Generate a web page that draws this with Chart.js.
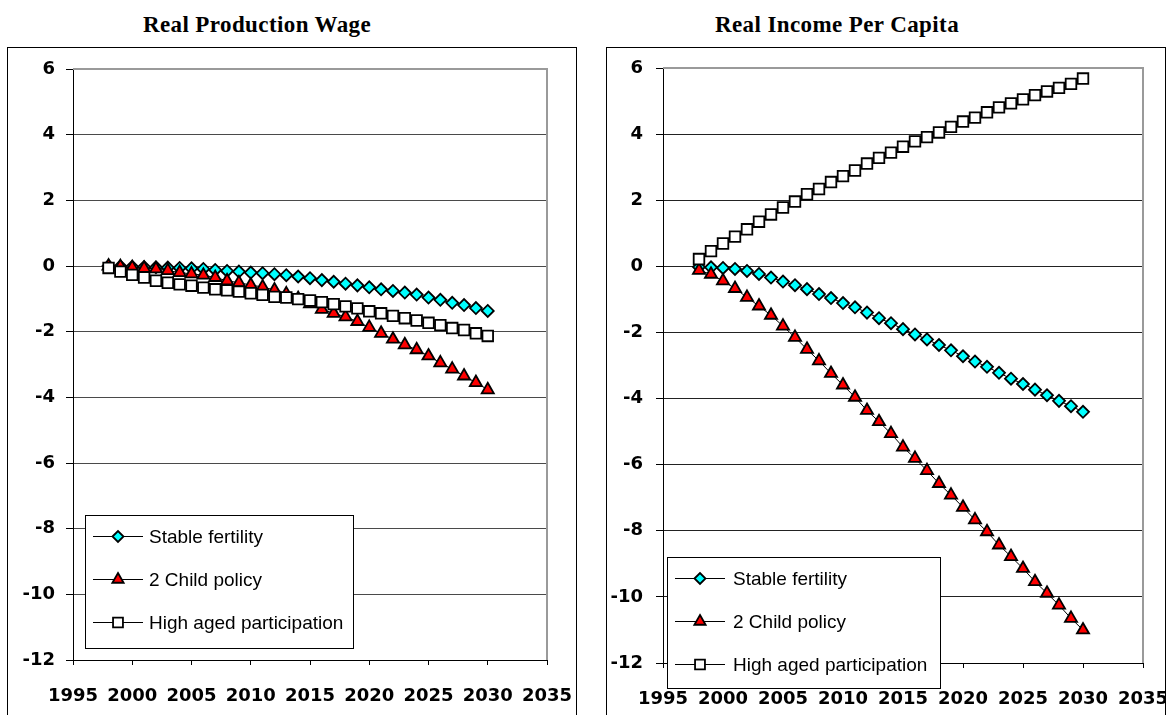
<!DOCTYPE html>
<html>
<head>
<meta charset="utf-8">
<script src="https://cdn.jsdelivr.net/npm/chart.js@4.4.1/dist/chart.umd.min.js"></script>
<style>
  html, body { margin: 0; padding: 0; background: #fff; overflow: hidden; }
  body { width: 1168px; height: 715px; position: relative; }
  .title {
    position: absolute; top: 12px; line-height: 27px; white-space: nowrap;
    font: bold 23px "Times New Roman", "Liberation Serif", serif; letter-spacing: 0.4px;
    transform: translateX(-50%); color: #000;
  }
  .panel { position: absolute; top: 47px; height: 680px; border: 1px solid #000; overflow: hidden; background: #fff; }
  .panel canvas { position: absolute; left: 0; top: 0; }
</style>
</head>
<body>
<div class="title" style="left:257px">Real Production Wage</div>
<div class="title" style="left:837px">Real Income Per Capita</div>
<div class="panel" style="left:7px; width:568px"><canvas id="wageChart" width="568" height="680"></canvas></div>
<div class="panel" style="left:606px; width:558px"><canvas id="incomeChart" width="580" height="680"></canvas></div>

<script>
// --- data ---
const years = [1998, 1999, 2000, 2001, 2002, 2003, 2004, 2005, 2006, 2007, 2008,
  2009, 2010, 2011, 2012, 2013, 2014, 2015, 2016, 2017, 2018, 2019, 2020,
  2021, 2022, 2023, 2024, 2025, 2026, 2027, 2028, 2029, 2030];

const seriesNames = ['Stable fertility', '2 Child policy', 'High aged participation'];

// Real Production Wage
const wageStable = [0, -0.01, -0.02, -0.03, -0.04, -0.05, -0.06, -0.07, -0.09, -0.12, -0.15,
  -0.17, -0.2, -0.22, -0.25, -0.28, -0.32, -0.37, -0.43, -0.48, -0.54, -0.59, -0.65,
  -0.71, -0.76, -0.81, -0.87, -0.96, -1.03, -1.12, -1.19, -1.28, -1.37];
const wageTwoChild = [0, -0.02, -0.05, -0.07, -0.09, -0.14, -0.2, -0.24, -0.28, -0.35, -0.45,
  -0.51, -0.58, -0.64, -0.73, -0.85, -0.99, -1.15, -1.32, -1.44, -1.55, -1.69, -1.87,
  -2.05, -2.23, -2.4, -2.55, -2.74, -2.95, -3.14, -3.35, -3.55, -3.77];
const wageHighAged = [-0.06, -0.17, -0.27, -0.35, -0.45, -0.51, -0.56, -0.6, -0.66, -0.71, -0.74,
  -0.78, -0.83, -0.88, -0.94, -0.96, -1.01, -1.05, -1.1, -1.16, -1.23, -1.29, -1.38,
  -1.44, -1.52, -1.59, -1.66, -1.73, -1.8, -1.89, -1.95, -2.05, -2.13];

// Real Income Per Capita
const incomeStable = [-0.02, -0.03, -0.05, -0.08, -0.14, -0.23, -0.34, -0.46, -0.57, -0.69, -0.84,
  -0.96, -1.11, -1.24, -1.4, -1.57, -1.72, -1.9, -2.06, -2.21, -2.38, -2.54, -2.72,
  -2.88, -3.04, -3.22, -3.4, -3.56, -3.73, -3.9, -4.07, -4.23, -4.4];
const incomeTwoChild = [-0.12, -0.24, -0.44, -0.67, -0.94, -1.2, -1.48, -1.81, -2.15, -2.51, -2.86,
  -3.24, -3.59, -3.96, -4.36, -4.7, -5.06, -5.47, -5.81, -6.18, -6.57, -6.92, -7.29,
  -7.67, -8.03, -8.43, -8.78, -9.14, -9.54, -9.89, -10.25, -10.65, -11.0];
const incomeHighAged = [0.22, 0.46, 0.69, 0.9, 1.12, 1.35, 1.57, 1.78, 1.96, 2.18, 2.34,
  2.55, 2.73, 2.9, 3.11, 3.28, 3.44, 3.62, 3.78, 3.91, 4.05, 4.22, 4.38,
  4.5, 4.66, 4.81, 4.93, 5.05, 5.18, 5.29, 5.4, 5.52, 5.68];

const xMin = 1995, xMax = 2035, xStep = 5;
const yMin = -12, yMax = 6, yStep = 2;

// marker look per series (Excel style)
const markerStyles = [
  { pointStyle: 'rectRot', pointRadius: 6, pointBackgroundColor: '#00FFFF', order: 3 },
  { pointStyle: 'triangle', pointRadius: 7, pointBackgroundColor: '#FF0000', order: 2 },
  { pointStyle: 'rect', pointRadius: 7.5, pointBackgroundColor: '#FFFFFF', order: 1 }
];

const TICK_FONT = { family: '"DejaVu Sans", sans-serif', size: 18, weight: 'bold' };
const LEGEND_FONT = '19px "Liberation Sans", Arial, sans-serif';

function buildDatasets(valueLists) {
  return valueLists.map((values, i) => Object.assign({
    label: seriesNames[i],
    data: years.map((yr, j) => ({ x: yr, y: values[j] })),
    borderColor: '#000',
    borderWidth: 1,
    pointBorderColor: '#000',
    pointBorderWidth: 1.8,
    tension: 0
  }, markerStyles[i]));
}

// grey plot-area frame on top and right, like the Excel plot area
const plotFrame = {
  id: 'plotFrame',
  beforeDatasetsDraw(chart) {
    const { ctx, chartArea: a } = chart;
    ctx.save();
    ctx.strokeStyle = '#9a9a9a';
    ctx.lineWidth = 2;
    ctx.beginPath();
    ctx.moveTo(a.left, a.top);
    ctx.lineTo(a.right, a.top);
    ctx.lineTo(a.right, a.bottom);
    ctx.stroke();
    ctx.restore();
  }
};

// boxed legend sitting inside the plot area
const boxLegend = {
  id: 'boxLegend',
  afterDraw(chart, args, opts) {
    const ctx = chart.ctx;
    const b = opts.box;
    ctx.save();
    ctx.fillStyle = '#fff';
    ctx.fillRect(b.x, b.y, b.w, b.h);
    ctx.strokeStyle = '#000';
    ctx.lineWidth = 1;
    ctx.strokeRect(b.x + 0.5, b.y + 0.5, b.w, b.h);
    chart.data.datasets.forEach((ds, i) => {
      const y = Math.round(b.y + opts.firstRow + i * opts.rowGap) + 0.5;
      ctx.beginPath();
      ctx.moveTo(b.x + opts.lineFrom, y);
      ctx.lineTo(b.x + opts.lineTo, y);
      ctx.strokeStyle = '#000';
      ctx.lineWidth = 1;
      ctx.stroke();
      ctx.fillStyle = ds.pointBackgroundColor;
      ctx.strokeStyle = '#000';
      ctx.lineWidth = ds.pointBorderWidth;
      Chart.helpers.drawPoint(ctx, {
        pointStyle: ds.pointStyle, radius: ds.pointRadius - 0.5, rotation: 0, borderWidth: ds.pointBorderWidth
      }, b.x + (opts.lineFrom + opts.lineTo) / 2, y);
      ctx.fillStyle = '#000';
      ctx.font = LEGEND_FONT;
      ctx.textBaseline = 'middle';
      ctx.textAlign = 'left';
      ctx.fillText(ds.label, b.x + opts.textX, y + 1);
    });
    ctx.restore();
  }
};

function makeChart(canvasId, valueLists, layout) {
  const ctx = document.getElementById(canvasId).getContext('2d');
  return new Chart(ctx, {
    type: 'line',
    data: { datasets: buildDatasets(valueLists) },
    plugins: [plotFrame, boxLegend],
    options: {
      responsive: false,
      animation: false,
      events: [],
      layout: { padding: { left: 0, top: layout.top, right: layout.right, bottom: 0 } },
      plugins: {
        legend: { display: false },
        tooltip: { enabled: false },
        title: { display: false },
        boxLegend: layout.legend
      },
      scales: {
        x: {
          type: 'linear',
          min: xMin, max: xMax,
          afterFit: (s) => { s.height = layout.xHeight; s.paddingLeft = 0; s.paddingRight = 0; },
          grid: { drawOnChartArea: false, drawTicks: true, tickLength: 5, tickColor: '#000' },
          border: { color: '#000', width: 1 },
          ticks: {
            stepSize: xStep, autoSkip: false, maxRotation: 0, padding: 21,
            color: '#000', font: TICK_FONT,
            callback: (v) => String(v)
          }
        },
        y: {
          type: 'linear',
          min: yMin, max: yMax,
          afterFit: (s) => { s.width = layout.yWidth; s.paddingTop = 0; s.paddingBottom = 0; },
          grid: {
            color: (c) => (c.tick && c.tick.value === yMax) ? 'rgba(0,0,0,0)' : layout.gridColor,
            lineWidth: 1, tickLength: 7, tickColor: '#000'
          },
          border: { color: '#000', width: 1 },
          ticks: {
            stepSize: yStep, padding: layout.yPad,
            color: '#000', font: TICK_FONT,
            callback: (v) => String(v)
          }
        }
      }
    }
  });
}

makeChart('wageChart', [wageStable, wageTwoChild, wageHighAged], {
  top: 21, right: 29, xHeight: 68, yWidth: 65, yPad: 11, gridColor: '#4a4a4a',
  legend: { box: { x: 77, y: 467, w: 268, h: 133 }, firstRow: 21, rowGap: 43, lineFrom: 8, lineTo: 58, textX: 64 }
});

makeChart('incomeChart', [incomeStable, incomeTwoChild, incomeHighAged], {
  top: 20, right: 44, xHeight: 65, yWidth: 56, yPad: 13, gridColor: '#222',
  legend: { box: { x: 60, y: 509, w: 273, h: 131 }, firstRow: 21, rowGap: 43, lineFrom: 8, lineTo: 58, textX: 66 }
});
</script>
</body>
</html>
